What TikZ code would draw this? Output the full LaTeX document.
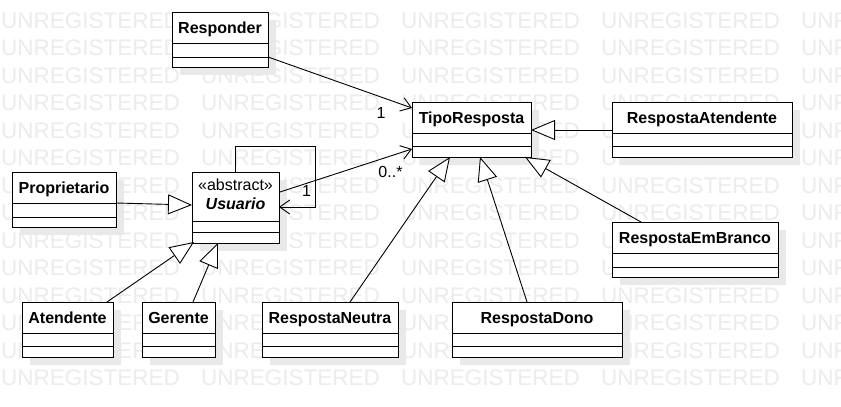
\documentclass[tikz,border=0pt]{standalone}
\usepackage{fontspec}
\setmainfont{Liberation Sans}
\usetikzlibrary{arrows.meta,calc}
\definecolor{wm}{gray}{0.925}
\definecolor{shd}{gray}{0.915}
\tikzset{
 classbox/.style={draw=black, fill=white, line width=1pt, inner sep=0pt, outer sep=0pt, anchor=north west},
 cname/.style={font=\fontsize{16}{18}\selectfont\bfseries, anchor=base, inner sep=0pt},
 ctext/.style={font=\fontsize{16}{18}\selectfont, anchor=base, inner sep=0pt},
 sepline/.style={line width=1pt},
 gen/.style={line width=0.9pt, -{Triangle[open, length=24pt, width=20pt, fill=white]}},
 assoc/.style={line width=0.9pt, -{Straight Barb[length=10pt, width=14pt]}},
 mult/.style={font=\fontsize{16}{18}\selectfont, anchor=base, inner sep=0pt},
 wmtext/.style={font=\fontsize{22.5}{24}\selectfont, text=wm, anchor=base west, inner sep=0pt},
}
% name, x1, y1, x2, y2, line1, line2, title
\newcommand\umlclass[8]{%
 \fill[shd] (#2+8,#3+8) rectangle (#4+8,#5+8);
 \node[classbox, minimum width={#4-#2}, minimum height={#5-#3}] (#1) at (#2,#3) {};
 \draw[sepline] (#2,#6) -- (#4,#6);
 \draw[sepline] (#2,#7) -- (#4,#7);
 \node[cname] (#1-t) at ({(#2+#4)/2},{(#3+#6)/2+5.8}) {#8};
}
\begin{document}
\begin{tikzpicture}[x=1pt,y=-1pt]
\useasboundingbox (0,0) rectangle (841,407);
\fill[white] (0,0) rectangle (841,407);
\begin{scope}
\clip (0,0) rectangle (841,407);
\foreach \r in {0,...,13}{
 \foreach \c in {0,...,4}{
  \node[wmtext] (wm-\r-\c) at ({\c*200+1},{28+27.5*\r}) {UNREGISTERED};
 }
}
\end{scope}

\umlclass{resp}{172}{12}{268}{67}{43}{57}{Responder}
\umlclass{tipo}{412}{102}{531}{157}{133}{146}{TipoResposta}
\umlclass{ratend}{612}{102}{792}{157}{133}{146}{RespostaAtendente}
\umlclass{usu}{192}{172}{279}{243}{221}{232}{}
\umlclass{prop}{12}{172}{116}{227}{203}{217}{Proprietario}
\umlclass{branco}{612}{222}{778}{277}{253}{267}{RespostaEmBranco}
\umlclass{aten}{22}{302}{113}{357}{333}{346}{Atendente}
\umlclass{ger}{142}{302}{215}{357}{333}{346}{Gerente}
\umlclass{neut}{262}{302}{398}{357}{333}{346}{RespostaNeutra}
\umlclass{dono}{452}{302}{622}{357}{333}{346}{RespostaDono}

\node[ctext] (usu-s) at (235.5,190) {«abstract»};
\node[cname, font=\fontsize{16}{18}\selectfont\bfseries\itshape] (usu-n) at (235.5,209) {Usuario};

% associations
\draw[assoc] ($(resp.south east)+(0,-10)$) -- ($(tipo.north west)+(0,6)$);
\draw[assoc] ($(usu.north east)+(1,20)$) -- ($(tipo.south west)+(0,-8)$);
\draw[assoc] ($(usu.north west)+(43,0)$) -- ++(0,-26) -- ++(80,0) -- ++(0,61) -- ($(usu.north east)+(0,35)$);
\node[mult] (m1) at (381,118) {1};
\node[mult] (m2) at (390.5,177) {0..*};
\node[mult] (m3) at (306.5,196) {1};

% generalizations
\draw[gen] ($(prop.north east)+(0,31)$) -- ($(usu.north west)+(0,33)$);
\draw[gen] ($(aten.north east)+(-6,0)$) -- ($(usu.south west)+(2,-1)$);
\draw[gen] ($(ger.north west)+(51,0)$) -- ($(usu.south west)+(26,0)$);
\draw[gen] ($(neut.north west)+(88,0)$) -- ($(tipo.south west)+(38,0)$);
\draw[gen] ($(dono.north west)+(75,0)$) -- ($(tipo.south west)+(68,0)$);
\draw[gen] ($(branco.north west)+(29,0)$) -- ($(tipo.south east)+(-6,0)$);
\draw[gen] ($(ratend.north west)+(0,28)$) -- ($(tipo.north east)+(0,28)$);
\end{tikzpicture}
\end{document}
